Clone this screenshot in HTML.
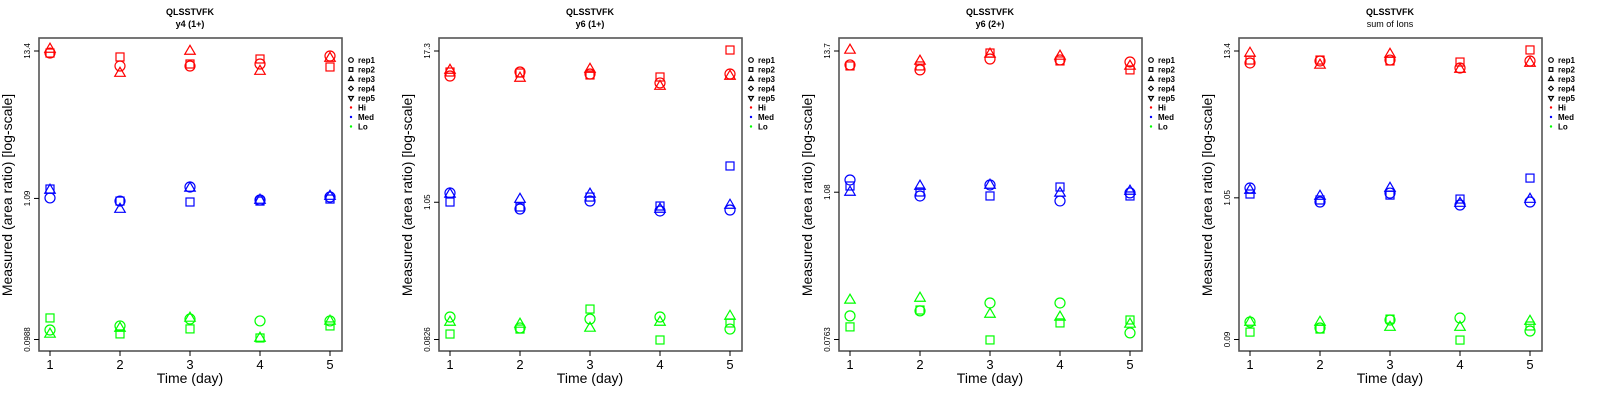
<!DOCTYPE html>
<html><head><meta charset="utf-8"><style>
html,body{margin:0;padding:0;background:#fff}
svg{display:block}
text{font-family:"Liberation Sans",sans-serif}
</style></head><body>
<svg id="chart" width="1600" height="400" viewBox="0 0 1600 400" xmlns="http://www.w3.org/2000/svg"></svg>
<script>
const days = [1, 2, 3, 4, 5];
const panelTitles = ["y4 (1+)", "y6 (1+)", "y6 (2+)", "sum of Ions"];
const tickLabels = [["13.4", "1.09", "0.0988"], ["17.3", "1.05", "0.0826"], ["13.7", "1.08", "0.0763"], ["13.4", "1.05", "0.09"]];
const tickValues = [[13.4, 1.09, 0.0988], [17.3, 1.05, 0.0826], [13.7, 1.08, 0.0763], [13.4, 1.05, 0.09]];
const legendLabels = ["rep1", "rep2", "rep3", "rep4", "rep5", "Hi", "Med", "Lo"];
// log10(area ratio), per panel: [rep1, rep2, rep3] x 5 days
const hiLog10 = [
  [[1.112,1.016,1.016,1.031,1.090],[1.112,1.083,1.031,1.068,1.009],[1.142,0.964,1.127,0.979,1.075]],
  [[1.037,1.069,1.053,0.981,1.053],[1.069,1.061,1.045,1.029,1.246],[1.085,1.021,1.093,0.956,1.037]],
  [[1.028,0.989,1.074,1.067,1.051],[1.020,1.020,1.121,1.059,0.989],[1.145,1.059,1.114,1.098,1.020]],
  [[1.037,1.052,1.059,0.999,1.052],[1.059,1.059,1.052,1.044,1.135],[1.112,1.022,1.104,0.991,1.037]]
];
const medLog10 = [
  [[0.041,0.018,0.122,0.026,0.048],[0.107,0.018,0.011,0.018,0.033],[0.100,-0.041,0.115,0.026,0.055]],
  [[0.096,-0.033,0.031,-0.049,-0.041],[0.023,-0.017,0.063,-0.009,0.313],[0.088,0.047,0.088,-0.033,-0.001]],
  [[0.129,0.004,0.090,-0.035,0.028],[0.082,0.035,0.004,0.074,0.004],[0.035,0.082,0.090,0.028,0.043]],
  [[0.095,-0.010,0.057,-0.033,-0.010],[0.050,0.005,0.042,0.012,0.170],[0.080,0.035,0.095,-0.018,0.012]]
];
const loLog10 = [
  [[-0.935,-0.905,-0.854,-0.868,-0.868],[-0.846,-0.964,-0.927,-0.994,-0.905],[-0.964,-0.920,-0.846,-0.994,-0.868]],
  [[-0.902,-0.990,-0.918,-0.902,-0.999],[-1.039,-0.999,-0.838,-1.087,-0.950],[-0.942,-0.958,-0.990,-0.942,-0.894]],
  [[-0.933,-0.894,-0.832,-0.832,-1.066],[-1.019,-0.887,-1.121,-0.988,-0.965],[-0.808,-0.793,-0.918,-0.941,-0.996]],
  [[-0.914,-0.959,-0.899,-0.884,-0.982],[-0.990,-0.967,-0.892,-1.050,-0.944],[-0.914,-0.914,-0.952,-0.952,-0.907]]
];

const NS = "http://www.w3.org/2000/svg";
const svg = document.getElementById("chart");
function mk(tag, attrs, parent, txt){
  const e = document.createElementNS(NS, tag);
  for (const k in attrs) e.setAttribute(k, attrs[k]);
  if (txt !== undefined) e.textContent = txt;
  parent.appendChild(e);
  return e;
}
const colors = {hi:"#ff0000", med:"#0000ff", lo:"#00ff00"};

function marker(g, shape, cx, cy, col, size){
  let e;
  if (shape === 0) e = mk("circle", {cx:cx, cy:cy, r:size, fill:"none", stroke:col, "stroke-width":1.2}, g);
  else if (shape === 1) e = mk("rect", {x:cx-size*0.8, y:cy-size*0.8, width:size*1.6, height:size*1.6, fill:"none", stroke:col, "stroke-width":1.2}, g);
  else if (shape === 2) e = mk("polygon", {points:`${cx},${cy-size*1.15} ${cx-size*1.05},${cy+size*0.65} ${cx+size*1.05},${cy+size*0.65}`, fill:"none", stroke:col, "stroke-width":1.2}, g);
  else if (shape === 3) e = mk("polygon", {points:`${cx},${cy-size} ${cx+size},${cy} ${cx},${cy+size} ${cx-size},${cy}`, fill:"none", stroke:col, "stroke-width":1.2}, g);
  else e = mk("polygon", {points:`${cx},${cy+size*1.15} ${cx-size*1.05},${cy-size*0.65} ${cx+size*1.05},${cy-size*0.65}`, fill:"none", stroke:col, "stroke-width":1.2}, g);
  return e;
}

for (let p = 0; p < 4; p++){
  const ox = p * 400;
  const g = mk("g", {transform:`translate(${ox},0)`}, svg);
  
  
  const L = 39, R = 342, T = 38, B = 351;
  const yTop = 51, yBot = 339.5;
  const lt = Math.log10(tickValues[p][0]), lb = Math.log10(tickValues[p][2]);
  const yScale = lv => yTop + (lt - lv) / (lt - lb) * (yBot - yTop);
  const xScale = d => 50 + (d - 1) * 70;

  let t = mk("text", {x:190, y:15, "text-anchor":"middle", "font-size":9, "font-weight":"bold"}, g, "QLSSTVFK");
  
  
  t = mk("text", {x:190, y:27, "text-anchor":"middle", "font-size":9, "font-weight": p===3 ? "normal" : "bold"}, g, panelTitles[p]);
  
  

  const box = mk("rect", {x:L, y:T, width:R-L, height:B-T, fill:"none", stroke:"#555", "stroke-width":1.6}, g);
  
  

  days.forEach(d => {
    const x = xScale(d);
    mk("line", {x1:x, x2:x, y1:B, y2:B+5, stroke:"#000", "stroke-width":1}, g);
    const lab = mk("text", {x:x, y:369, "text-anchor":"middle", "font-size":13}, g, String(d));
    
    
  });
  tickValues[p].forEach((v, i) => {
    const y = yScale(Math.log10(v));
    mk("line", {x1:L, x2:L-5, y1:y, y2:y, stroke:"#000", "stroke-width":1}, g);
    const lab = mk("text", {x:0, y:0, "text-anchor":"middle", "font-size":8, transform:`translate(30,${y}) rotate(-90)`}, g, tickLabels[p][i]);
    
    
  });
  const xt = mk("text", {x:190, y:383, "text-anchor":"middle", "font-size":14}, g, "Time (day)");
  
  
  const yt = mk("text", {x:0, y:0, "text-anchor":"middle", "font-size":14, transform:"translate(12,195) rotate(-90)"}, g, "Measured (area ratio) [log-scale]");
  
  

  const groups = [["hi", hiLog10[p]], ["med", medLog10[p]], ["lo", loLog10[p]]];
  groups.forEach(([key, reps]) => {
    reps.forEach((series, r) => {
      series.forEach((lv, i) => {
        const m = marker(g, r, xScale(days[i]), yScale(lv), colors[key], 5);
        
        
      });
    });
  });

  const lg = mk("g", {}, g);
  
  
  legendLabels.forEach((lab, i) => {
    const y = 60 + i * 9.5;
    if (i < 5) marker(lg, i, 351, y, "#000", 2.3);
    else mk("circle", {cx:351, cy:y, r:1.2, fill: i===5 ? colors.hi : i===6 ? colors.med : colors.lo}, lg);
    const tx = mk("text", {x:358, y:y+3, "font-size":8, "font-weight":"bold"}, lg, lab);
    
    
  });
}
</script>
</body></html>
